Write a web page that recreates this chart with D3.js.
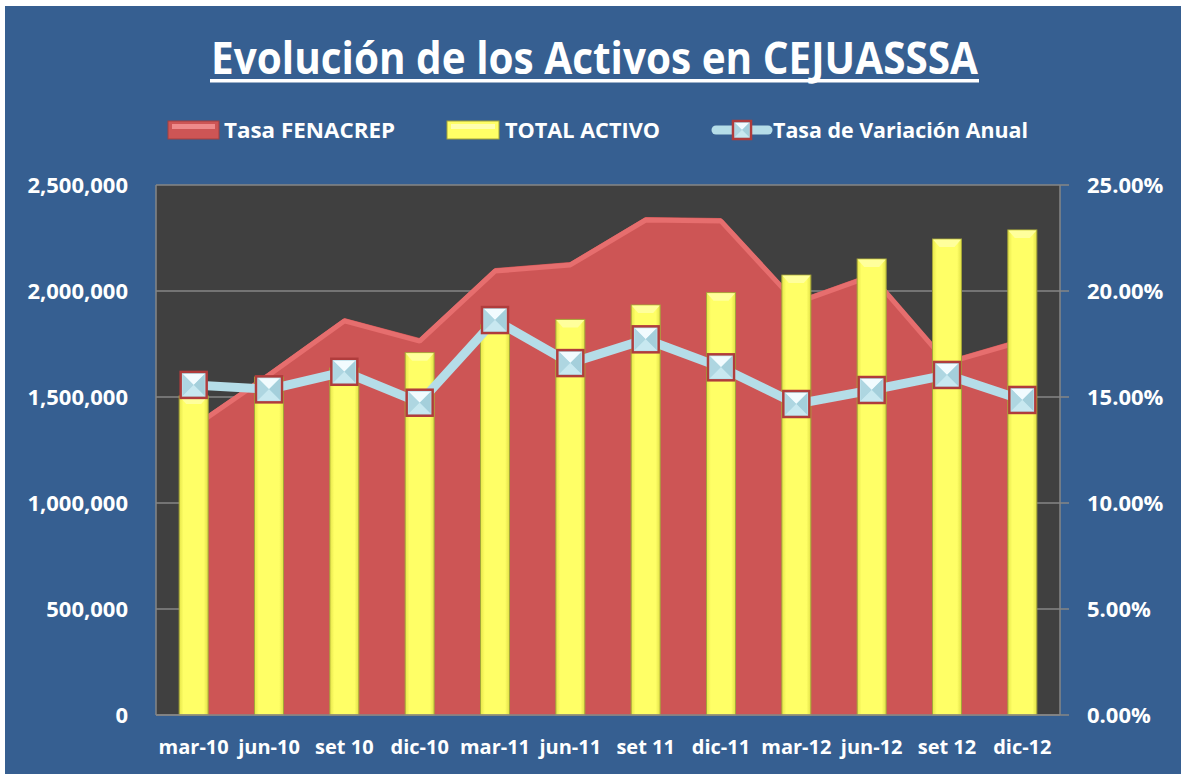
<!DOCTYPE html>
<html>
<head>
<meta charset="utf-8">
<script src="https://cdn.jsdelivr.net/npm/d3@7"></script>
<style>
  body { margin: 0; background: #ffffff; }
  text { font-family: "Open Sans", "DejaVu Sans", sans-serif; font-weight: bold; fill: #ffffff; }
</style>
</head>
<body>
<div class="chart"></div>
<script>
const width = 1181;
const height = 774;

const periods = ["mar-10", "jun-10", "set 10", "dic-10", "mar-11", "jun-11", "set 11", "dic-11", "mar-12", "jun-12", "set 12", "dic-12"];
const totalActivo = [1505000, 1594000, 1637000, 1709000, 1840000, 1866000, 1934000, 1992000, 2075000, 2151000, 2245000, 2288000];
const tasaFenacrep = [0.1373, 0.1618, 0.1873, 0.1778, 0.2108, 0.2137, 0.2349, 0.2344, 0.1958, 0.2085, 0.1675, 0.1778];
const tasaVariacion = [0.1557, 0.1536, 0.1619, 0.1473, 0.1863, 0.1660, 0.1772, 0.1640, 0.1467, 0.1533, 0.1604, 0.1486];
const leftTicks = [0, 500000, 1000000, 1500000, 2000000, 2500000];
const rightTicks = [0, 0.05, 0.10, 0.15, 0.20, 0.25];

const plot = { left: 156, right: 1060, top: 185, bottom: 715 };

const svg = d3.select(".chart").append("svg").attr("width", width).attr("height", height);
const defs = svg.append("defs");

// background
svg.append("rect").attr("x", 5).attr("y", 6).attr("width", width - 5).attr("height", height - 6).attr("fill", "#365f91");
svg.append("rect").attr("x", plot.left).attr("y", plot.top).attr("width", plot.right - plot.left).attr("height", plot.bottom - plot.top).attr("fill", "#404040");

const x = d3.scaleBand().domain(periods).range([plot.left, plot.right]).paddingInner(0.615).paddingOuter(0.3075);
const yL = d3.scaleLinear().domain([0, 2500000]).range([plot.bottom, plot.top]);
const yR = d3.scaleLinear().domain([0, 0.25]).range([plot.bottom, plot.top]);
const cx = d => x(d) + x.bandwidth() / 2;

// gridlines
svg.append("g").selectAll("line").data(leftTicks).enter().append("line")
    .attr("x1", plot.left).attr("x2", plot.right)
    .attr("y1", d => yL(d)).attr("y2", d => yL(d))
    .attr("stroke", "#868686").attr("stroke-width", 1.5);

// gradients
let yg = defs.append("linearGradient").attr("id", "barGrad").attr("x1", 0).attr("x2", 1).attr("y1", 0).attr("y2", 0);
yg.append("stop").attr("offset", "0").attr("stop-color", "#e6e64a");
yg.append("stop").attr("offset", "0.15").attr("stop-color", "#ffff66");
yg.append("stop").attr("offset", "0.85").attr("stop-color", "#ffff66");
yg.append("stop").attr("offset", "1").attr("stop-color", "#e0e046");

// area Tasa FENACREP
const area = d3.area().x((d, i) => cx(periods[i])).y0(plot.bottom).y1(d => yR(d));
svg.append("path").datum(tasaFenacrep).attr("d", area).attr("fill", "#cd5555");
const topLine = d3.line().x((d, i) => cx(periods[i])).y(d => yR(d) + 3);
svg.append("path").datum(tasaFenacrep).attr("d", topLine).attr("fill", "none")
    .attr("stroke", "#e66e6e").attr("stroke-width", 5).attr("stroke-linejoin", "bevel");

// bars TOTAL ACTIVO
const bars = svg.append("g").selectAll("g").data(totalActivo).enter().append("g");
bars.append("rect")
    .attr("x", (d, i) => x(periods[i])).attr("y", d => yL(d))
    .attr("width", x.bandwidth()).attr("height", d => plot.bottom - yL(d))
    .attr("fill", "url(#barGrad)").attr("stroke", "#a4a43a").attr("stroke-width", 1);
bars.append("polygon")
    .attr("points", (d, i) => {
        let x0 = x(periods[i]), x1 = x0 + x.bandwidth(), y0 = yL(d);
        return [[x0 + 0.5, y0 + 0.5], [x1 - 0.5, y0 + 0.5], [x1 - 7, y0 + 8], [x0 + 7, y0 + 8]].join(" ");
    })
    .attr("fill", "#ffff9c");

// line Tasa de Variación Anual
const line = d3.line().x((d, i) => cx(periods[i])).y(d => yR(d));
svg.append("path").datum(tasaVariacion).attr("d", line).attr("fill", "none")
    .attr("stroke", "#b5dde8").attr("stroke-width", 9);

function marker(g, mx, my, s) {
    let h = s / 2;
    g.append("rect").attr("x", mx - h).attr("y", my - h).attr("width", s).attr("height", s)
        .attr("fill", "#b9e1eb").attr("stroke", "#b03c3c").attr("stroke-width", 2.5);
    let a = h - 2;
    let tri = [
        [[mx - a, my - a], [mx + a, my - a], [mx, my], "#f2fbfe"],
        [[mx - a, my - a], [mx - a, my + a], [mx, my], "#aed6e1"],
        [[mx + a, my - a], [mx + a, my + a], [mx, my], "#a4cfdb"],
        [[mx - a, my + a], [mx + a, my + a], [mx, my], "#c8e8f0"]
    ];
    tri.forEach(t => g.append("polygon").attr("points", [t[0], t[1], t[2]].join(" ")).attr("fill", t[3]));
}
const markers = svg.append("g");
tasaVariacion.forEach((d, i) => marker(markers, cx(periods[i]), yR(d), 26));

// axes lines
svg.append("line").attr("x1", plot.left).attr("x2", plot.left).attr("y1", plot.top).attr("y2", plot.bottom).attr("stroke", "#868686").attr("stroke-width", 1.5);
svg.append("line").attr("x1", plot.right).attr("x2", plot.right).attr("y1", plot.top).attr("y2", plot.bottom).attr("stroke", "#868686").attr("stroke-width", 1.5);
svg.append("line").attr("x1", plot.left).attr("x2", plot.right).attr("y1", plot.bottom).attr("y2", plot.bottom).attr("stroke", "#868686").attr("stroke-width", 1.5);
svg.append("g").selectAll("line").data(rightTicks).enter().append("line")
    .attr("x1", plot.right).attr("x2", plot.right + 9)
    .attr("y1", d => yR(d)).attr("y2", d => yR(d))
    .attr("stroke", "#868686").attr("stroke-width", 1.5);

// tick labels
svg.append("g").selectAll("text").data(leftTicks).enter().append("text")
    .attr("x", 128).attr("y", d => yL(d) + 8).attr("text-anchor", "end")
    .style("font-size", "22px").text(d => d3.format(",")(d));
svg.append("g").selectAll("text").data(rightTicks).enter().append("text")
    .attr("x", 1087).attr("y", d => yR(d) + 8)
    .style("font-size", "22px").text(d => d3.format(".2%")(d));
svg.append("g").selectAll("text").data(periods).enter().append("text")
    .attr("x", d => cx(d)).attr("y", 754).attr("text-anchor", "middle")
    .style("font-size", "20px").text(d => d);

// title
svg.append("text").attr("x", 211).attr("y", 74).attr("textLength", 767).attr("lengthAdjust", "spacingAndGlyphs")
    .style("font-size", "44px").text("Evolución de los Activos en CEJUASSSA");
svg.append("rect").attr("x", 210).attr("y", 79).attr("width", 769).attr("height", 3.5).attr("fill", "#ffffff");

// legend
let lg = svg.append("g");
lg.append("rect").attr("x", 168).attr("y", 121).attr("width", 51).attr("height", 18).attr("fill", "#cd5555").attr("stroke", "#a04040");
lg.append("rect").attr("x", 172).attr("y", 124).attr("width", 43).attr("height", 5).attr("fill", "#ef8a8a");
lg.append("text").attr("x", 224).attr("y", 138).attr("textLength", 171).attr("lengthAdjust", "spacingAndGlyphs")
    .style("font-size", "21px").text("Tasa FENACREP");

lg.append("rect").attr("x", 447).attr("y", 121).attr("width", 52).attr("height", 18).attr("fill", "#ffff66").attr("stroke", "#a4a43a");
lg.append("rect").attr("x", 451).attr("y", 124).attr("width", 44).attr("height", 5).attr("fill", "#ffffb0");
lg.append("text").attr("x", 505).attr("y", 138).attr("textLength", 155).attr("lengthAdjust", "spacingAndGlyphs")
    .style("font-size", "21px").text("TOTAL ACTIVO");

lg.append("line").attr("x1", 716).attr("x2", 768).attr("y1", 130).attr("y2", 130)
    .attr("stroke", "#b5dde8").attr("stroke-width", 9).attr("stroke-linecap", "round");
marker(lg, 742, 130, 18);
lg.append("text").attr("x", 773).attr("y", 138).attr("textLength", 255).attr("lengthAdjust", "spacingAndGlyphs")
    .style("font-size", "21px").text("Tasa de Variación Anual");
</script>
</body>
</html>
